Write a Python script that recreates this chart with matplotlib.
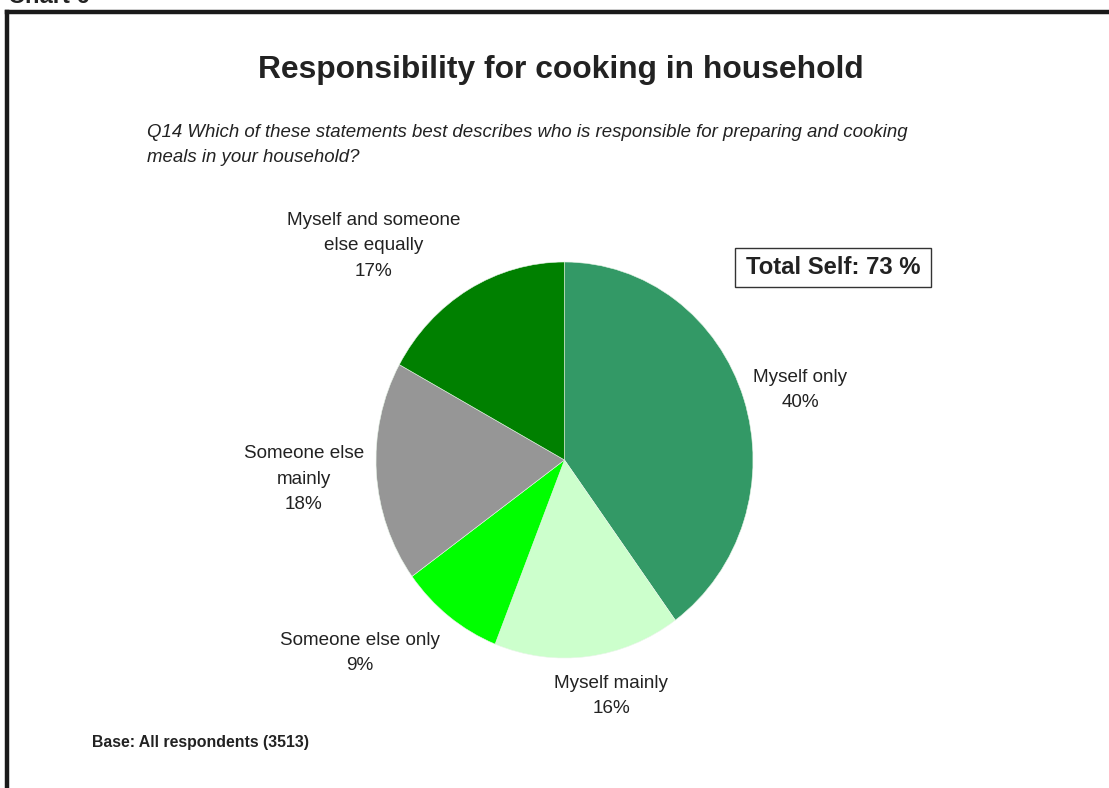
import matplotlib.pyplot as plt
from matplotlib.lines import Line2D
from matplotlib.patches import Rectangle

plt.rcParams['font.family'] = ['Liberation Sans', 'DejaVu Sans']

# slices, clockwise from 12 o'clock
labels = ['Myself only', 'Myself mainly', 'Someone else only',
          'Someone else\nmainly', 'Myself and someone\nelse equally']
shares = [40, 16, 9, 18, 17]
colors = ['#339966', '#ccffcc', '#00ff00', '#969696', '#008000']
total_self = 73

W, H = 1109, 788
fig = plt.figure(figsize=(W / 100, H / 100), dpi=100)

def fx(px):
    return px / W

def fy(py):
    return 1 - py / H

# pie axes, box fitted to the ellipse
pie_left, pie_right, pie_top, pie_bottom = 376, 753, 262, 658
ax = fig.add_axes([fx(pie_left), fy(pie_bottom),
                   (pie_right - pie_left) / W, (pie_bottom - pie_top) / H])
ax.pie(shares, colors=colors, startangle=90, counterclock=False, radius=1,
       wedgeprops=dict(edgecolor='#e8f5e8', linewidth=0.4))
ax.set_xlim(-1, 1)
ax.set_ylim(-1, 1)
ax.set_aspect('auto')
ax.axis('off')

# category labels
label_pos = [(800, 390), (611, 696), (360, 653), (304, 479), (374, 246)]
for lab, val, (px, py) in zip(labels, shares, label_pos):
    fig.text(fx(px), fy(py), f'{lab}\n{val}%', ha='center', va='center',
             fontsize=13.6, linespacing=1.65, color='#222222')

fig.text(fx(561), fy(70), 'Responsibility for cooking in household',
         ha='center', va='center', fontsize=22.9, fontweight='bold', color='#222222')
fig.text(fx(147), fy(145),
         'Q14 Which of these statements best describes who is responsible for preparing and cooking\n'
         'meals in your household?',
         ha='left', va='center', fontsize=13.4, style='italic', linespacing=1.54, color='#222222')
fig.text(fx(92), fy(742), 'Base: All respondents (3513)', ha='left', va='center',
         fontsize=11.4, fontweight='bold', color='#222222')

# total self box
fig.add_artist(Rectangle((fx(735), fy(287)), (931 - 735) / W, (287 - 248) / H,
                         transform=fig.transFigure, facecolor='white',
                         edgecolor='#333333', linewidth=1))
fig.text(fx(833), fy(268), f'Total Self: {total_self} %', ha='center', va='center',
         fontsize=17.2, fontweight='bold', color='#222222')

# outer frame (top and left edges only in view)
fig.add_artist(Line2D([fx(7), 1], [fy(12), fy(12)], color='#1a1a1a', linewidth=3.2))
fig.add_artist(Line2D([fx(7), fx(7)], [fy(12), 0], color='#1a1a1a', linewidth=3.2))
fig.text(fx(8), fy(3), 'Chart 6', ha='left', va='baseline', fontsize=17,
         fontweight='bold', color='#222222')

fig.savefig('out.png', dpi=100)
